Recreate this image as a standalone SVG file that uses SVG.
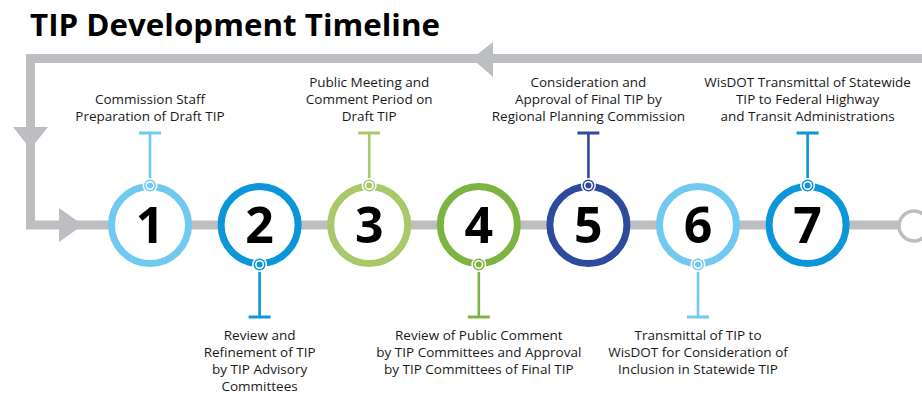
<svg xmlns="http://www.w3.org/2000/svg" width="922" height="398" viewBox="0 0 922 398">
<style>
.t{font-family:"Open Sans","Liberation Sans",sans-serif;font-size:13.5px;fill:#1a1a1a;text-anchor:middle}
.n{font-family:"Open Sans","Liberation Sans",sans-serif;font-size:50px;font-weight:700;fill:#000;text-anchor:middle}
.ring{fill:#fff;stroke-width:7}
.stem{stroke-width:2.6;fill:none}
.bar{stroke-width:3;fill:none}
</style>
<rect width="922" height="398" fill="#fff"/>
<text x="30" y="36" font-family="'Open Sans','Liberation Sans',sans-serif" font-size="30" font-weight="700" fill="#000" textLength="410" lengthAdjust="spacingAndGlyphs">TIP Development Timeline</text>
<g id="connectors">
<path d="M922 58.5 H30.5 V225 H900" fill="none" stroke="#BDBEC2" stroke-width="9"/>
<polygon points="472,58.5 493,42 493,77" fill="#BDBEC2"/>
<polygon points="13,127 48,127 30.5,149" fill="#BDBEC2"/>
<polygon points="59,208 59,242 83,225" fill="#BDBEC2"/>
</g>
<g id="end"><circle cx="914" cy="226" r="15" fill="#fff" stroke="#BDBEC2" stroke-width="3.5"/></g>
<g id="step1" stroke="#72C9EF">
<path class="stem" d="M150 185.5 V133"/><path class="bar" d="M139 133 H161"/>
<circle class="ring" cx="150" cy="225" r="38.5"/>
<circle cx="150" cy="185.5" r="7.5" fill="#fff" stroke="none"/><circle cx="150" cy="185.5" r="6" fill="#72C9EF" stroke="none"/><circle cx="150" cy="185.5" r="4.5" fill="#fff" stroke="none"/><circle cx="150" cy="185.5" r="3" fill="#72C9EF" stroke="none"/>
<text class="n" x="150" y="243" stroke="none">1</text>
<text class="t" stroke="none"><tspan x="150" y="104">Commission Staff</tspan><tspan x="150" y="121">Preparation of Draft TIP</tspan></text>
</g>
<g id="step2" stroke="#0A96D8">
<path class="stem" d="M259.6 264.5 V317"/><path class="bar" d="M248.6 317 H270.6"/>
<circle class="ring" cx="259.6" cy="225" r="38.5"/>
<circle cx="259.6" cy="264.5" r="7.5" fill="#fff" stroke="none"/><circle cx="259.6" cy="264.5" r="6" fill="#0A96D8" stroke="none"/><circle cx="259.6" cy="264.5" r="4.5" fill="#fff" stroke="none"/><circle cx="259.6" cy="264.5" r="3" fill="#0A96D8" stroke="none"/>
<text class="n" x="259.6" y="243" stroke="none">2</text>
<text class="t" stroke="none"><tspan x="259.6" y="340">Review and</tspan><tspan x="259.6" y="357">Refinement of TIP</tspan><tspan x="259.6" y="374">by TIP Advisory</tspan><tspan x="259.6" y="391">Committees</tspan></text>
</g>
<g id="step3" stroke="#AAC86A">
<path class="stem" d="M369.2 185.5 V133"/><path class="bar" d="M358.2 133 H380.2"/>
<circle class="ring" cx="369.2" cy="225" r="38.5"/>
<circle cx="369.2" cy="185.5" r="7.5" fill="#fff" stroke="none"/><circle cx="369.2" cy="185.5" r="6" fill="#AAC86A" stroke="none"/><circle cx="369.2" cy="185.5" r="4.5" fill="#fff" stroke="none"/><circle cx="369.2" cy="185.5" r="3" fill="#AAC86A" stroke="none"/>
<text class="n" x="369.2" y="243" stroke="none">3</text>
<text class="t" stroke="none"><tspan x="369.2" y="87">Public Meeting and</tspan><tspan x="369.2" y="104">Comment Period on</tspan><tspan x="369.2" y="121">Draft TIP</tspan></text>
</g>
<g id="step4" stroke="#7DB441">
<path class="stem" d="M478.8 264.5 V317"/><path class="bar" d="M467.8 317 H489.8"/>
<circle class="ring" cx="478.8" cy="225" r="38.5"/>
<circle cx="478.8" cy="264.5" r="7.5" fill="#fff" stroke="none"/><circle cx="478.8" cy="264.5" r="6" fill="#7DB441" stroke="none"/><circle cx="478.8" cy="264.5" r="4.5" fill="#fff" stroke="none"/><circle cx="478.8" cy="264.5" r="3" fill="#7DB441" stroke="none"/>
<text class="n" x="478.8" y="243" stroke="none">4</text>
<text class="t" stroke="none"><tspan x="478.8" y="340">Review of Public Comment</tspan><tspan x="478.8" y="357">by TIP Committees and Approval</tspan><tspan x="478.8" y="374">by TIP Committees of Final TIP</tspan></text>
</g>
<g id="step5" stroke="#2D4A9D">
<path class="stem" d="M588.4 185.5 V133"/><path class="bar" d="M577.4 133 H599.4"/>
<circle class="ring" cx="588.4" cy="225" r="38.5"/>
<circle cx="588.4" cy="185.5" r="7.5" fill="#fff" stroke="none"/><circle cx="588.4" cy="185.5" r="6" fill="#2D4A9D" stroke="none"/><circle cx="588.4" cy="185.5" r="4.5" fill="#fff" stroke="none"/><circle cx="588.4" cy="185.5" r="3" fill="#2D4A9D" stroke="none"/>
<text class="n" x="588.4" y="243" stroke="none">5</text>
<text class="t" stroke="none"><tspan x="588.4" y="87">Consideration and</tspan><tspan x="588.4" y="104">Approval of Final TIP by</tspan><tspan x="588.4" y="121">Regional Planning Commission</tspan></text>
</g>
<g id="step6" stroke="#72C9EF">
<path class="stem" d="M698 264.5 V317"/><path class="bar" d="M687 317 H709"/>
<circle class="ring" cx="698" cy="225" r="38.5"/>
<circle cx="698" cy="264.5" r="7.5" fill="#fff" stroke="none"/><circle cx="698" cy="264.5" r="6" fill="#72C9EF" stroke="none"/><circle cx="698" cy="264.5" r="4.5" fill="#fff" stroke="none"/><circle cx="698" cy="264.5" r="3" fill="#72C9EF" stroke="none"/>
<text class="n" x="698" y="243" stroke="none">6</text>
<text class="t" stroke="none"><tspan x="698" y="340">Transmittal of TIP to</tspan><tspan x="698" y="357">WisDOT for Consideration of</tspan><tspan x="698" y="374">Inclusion in Statewide TIP</tspan></text>
</g>
<g id="step7" stroke="#0A96D8">
<path class="stem" d="M807.6 185.5 V133"/><path class="bar" d="M796.6 133 H818.6"/>
<circle class="ring" cx="807.6" cy="225" r="38.5"/>
<circle cx="807.6" cy="185.5" r="7.5" fill="#fff" stroke="none"/><circle cx="807.6" cy="185.5" r="6" fill="#0A96D8" stroke="none"/><circle cx="807.6" cy="185.5" r="4.5" fill="#fff" stroke="none"/><circle cx="807.6" cy="185.5" r="3" fill="#0A96D8" stroke="none"/>
<text class="n" x="807.6" y="243" stroke="none">7</text>
<text class="t" stroke="none"><tspan x="807.6" y="87">WisDOT Transmittal of Statewide</tspan><tspan x="807.6" y="104">TIP to Federal Highway</tspan><tspan x="807.6" y="121">and Transit Administrations</tspan></text>
</g>
</svg>
